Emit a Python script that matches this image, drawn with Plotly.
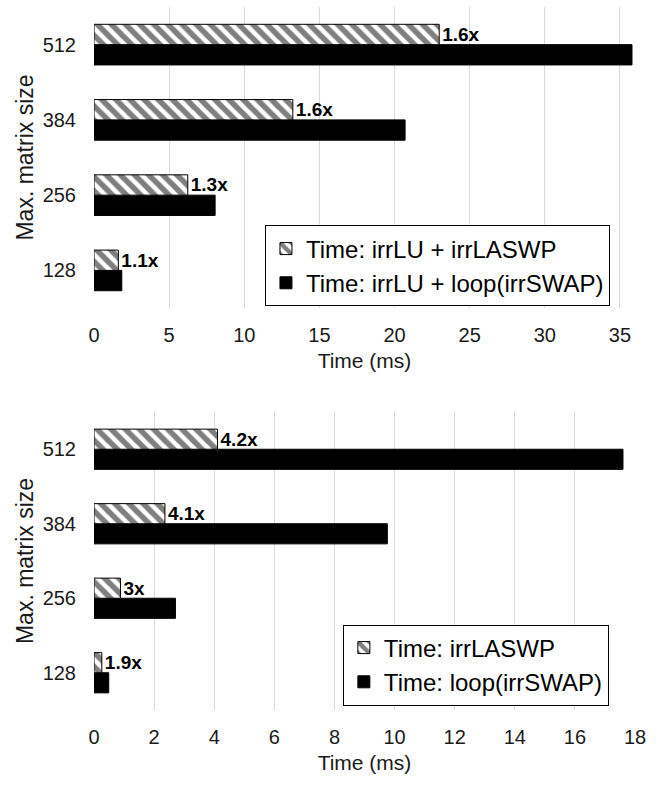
import plotly.graph_objects as go

sizes = ["128", "256", "384", "512"]

top_laswp = [1.62, 6.24, 13.23, 22.97]
top_loop = [1.85, 8.06, 20.7, 35.8]
top_speedup = ["1.1x", "1.3x", "1.6x", "1.6x"]
top_names = ["Time: irrLU + irrLASWP", "Time: irrLU + loop(irrSWAP)"]

bot_laswp = [0.26, 0.88, 2.36, 4.11]
bot_loop = [0.49, 2.71, 9.76, 17.6]
bot_speedup = ["1.9x", "3x", "4.1x", "4.2x"]
bot_names = ["Time: irrLASWP", "Time: loop(irrSWAP)"]

FONT = "Liberation Sans, Arial, sans-serif"

fig = go.Figure()

def add_pair(laswp, loop, labels, names, xa, ya, leg):
    fig.add_trace(go.Bar(
        y=sizes, x=loop, orientation="h", name=names[1],
        marker=dict(color="black", line=dict(color="black", width=1)),
        xaxis=xa, yaxis=ya, legend=leg, legendrank=2, hoverinfo="x+y",
    ))
    fig.add_trace(go.Bar(
        y=sizes, x=laswp, orientation="h", name=names[0],
        marker=dict(color="white", line=dict(color="black", width=1),
                    pattern=dict(shape="\\", fgcolor="black", bgcolor="white",
                                 size=10, solidity=0.55)),
        text=labels, textposition="outside", cliponaxis=False,
        constraintext="none",
        textfont=dict(family=FONT, size=19, color="black", weight="bold"),
        xaxis=xa, yaxis=ya, legend=leg, legendrank=1, hoverinfo="x+y",
    ))

add_pair(top_laswp, top_loop, top_speedup, top_names, "x", "y", "legend")
add_pair(bot_laswp, bot_loop, bot_speedup, bot_names, "x2", "y2", "legend2")

tick_font = dict(family=FONT, size=20, color="#1a1a1a")
xtitle_font = dict(family=FONT, size=21, color="#1a1a1a")
ytitle_font = dict(family=FONT, size=23, color="#1a1a1a")

def xaxis(rng, dtick, anchor):
    return dict(range=rng, dtick=dtick, tick0=0, showgrid=True, gridcolor="#d9d9d9",
                gridwidth=1, zeroline=False, showline=False, ticks="",
                tickfont=tick_font, ticklabelstandoff=13,
                title=dict(text="Time (ms)", font=xtitle_font, standoff=8),
                anchor=anchor, domain=[0, 1], fixedrange=True)

def yaxis(dom, anchor):
    return dict(type="category", categoryorder="array", categoryarray=sizes,
                showgrid=False, zeroline=False, showline=False, ticks="",
                tickfont=tick_font, ticklabelstandoff=17,
                title=dict(text="Max. matrix size", font=ytitle_font, standoff=2),
                domain=dom, anchor=anchor, fixedrange=True)

leg_font = dict(family=FONT, size=24, color="black")

fig.update_layout(
    width=656, height=786,
    margin=dict(l=94, r=21, t=7, b=76),
    paper_bgcolor="white", plot_bgcolor="white",
    font=dict(family=FONT),
    barmode="group", bargap=0.46, bargroupgap=0,
    showlegend=True,
    xaxis=xaxis([0, 36], 5, "y"),
    yaxis=yaxis([0.5718, 1.0], "x"),
    xaxis2=xaxis([0, 18], 2, "y2"),
    yaxis2=yaxis([0.0, 0.4239], "x2"),
    legend=dict(x=0.316, y=0.6316, xanchor="left", yanchor="middle",
                bgcolor="white", bordercolor="black", borderwidth=1,
                font=leg_font, tracegroupgap=0),
    legend2=dict(x=0.460, y=0.0640, xanchor="left", yanchor="middle",
                 bgcolor="white", bordercolor="black", borderwidth=1,
                 font=leg_font, tracegroupgap=0),
)

fig.write_html("out.html", config={"displayModeBar": False},
               post_script="document.body.style.margin='0';")
